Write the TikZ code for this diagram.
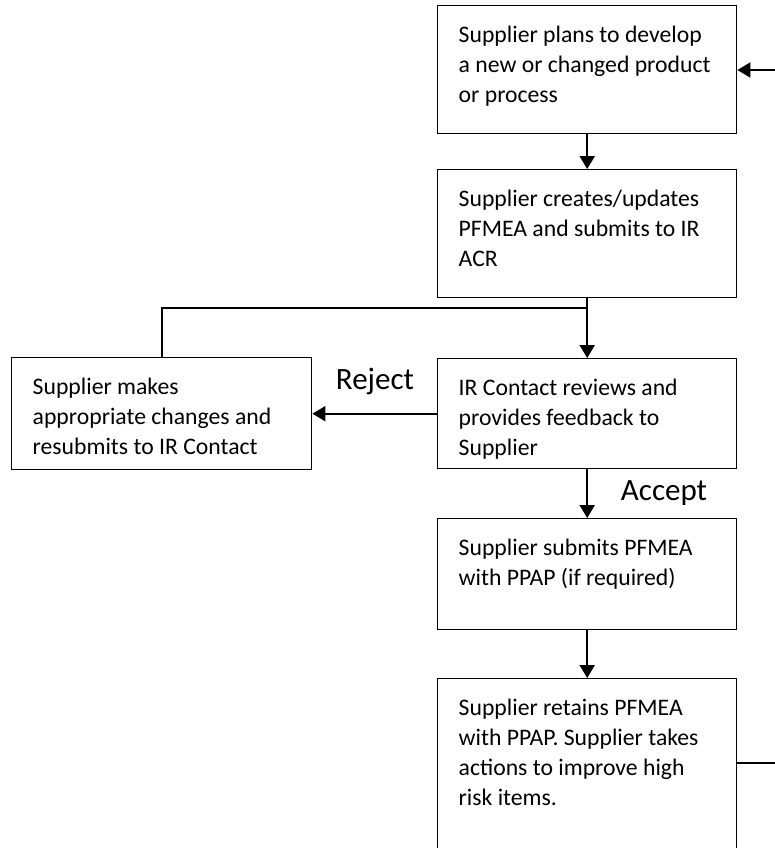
\documentclass[tikz,border=0pt]{standalone}
\usepackage{fontspec}
\setmainfont{Carlito}
\usetikzlibrary{arrows.meta}

% first baseline sits a fixed distance below the top edge of each box
\newcommand{\firstgap}{\rule{0pt}{37pt}}
\newcommand{\boxtext}[3]{\parbox[c][#2][t]{#1}{\fontsize{23.7pt}{30pt}\selectfont\raggedright\firstgap#3}}

\tikzset{
  stepbox/.style={draw=black, line width=1.4pt, inner xsep=21pt, inner ysep=0pt, anchor=north west, fill=white},
  flow/.style={line width=2pt, -{Triangle[length=13pt,width=15pt]}},
  plainline/.style={line width=2pt},
  decision/.style={font=\fontsize{31pt}{36pt}\selectfont, inner sep=0pt}
}

\begin{document}
\begin{tikzpicture}[x=1pt,y=-1pt]
  \useasboundingbox (0,0) rectangle (774,848);

  % process boxes (width 299, text area 257)
  \node[stepbox] (plan) at (437,5)
    {\boxtext{257pt}{128pt}{Supplier plans to develop\\ a new or changed product\\ or process}};
  \node[stepbox] (create) at (437,169)
    {\boxtext{257pt}{128pt}{Supplier creates/updates\\ PFMEA and submits to IR\\ ACR}};
  \node[stepbox] (review) at (437,358)
    {\boxtext{257pt}{110pt}{IR Contact reviews and\\ provides feedback to\\ Supplier}};
  \node[stepbox] (resubmit) at (11,357)
    {\boxtext{258pt}{112pt}{Supplier makes\\ appropriate changes and\\ resubmits to IR Contact}};
  \node[stepbox] (ppap) at (437,518)
    {\boxtext{257pt}{111pt}{Supplier submits PFMEA\\ with PPAP (if required)}};
  \node[stepbox] (retain) at (437,678)
    {\boxtext{257pt}{192pt}{Supplier retains PFMEA\\ with PPAP. Supplier takes\\ actions to improve high\\ risk items.}};

  % decision labels
  \node[decision] (reject) at (375,381) {Reject};
  \node[decision] (accept) at (664,493) {Accept};

  % loose ends running off the right edge
  \coordinate (loopin) at (780,70);
  \coordinate (loopout) at (780,763);
  \coordinate (merge) at (587,308);

  % connectors
  \draw[flow] (plan.south) -- (create.north);
  \draw[flow] (create.south) -- (review.north);
  \draw[plainline] (resubmit.north) |- (merge);
  \draw[flow] (review.west) -- (resubmit.east);
  \draw[flow] (review.south) -- (ppap.north);
  \draw[flow] (ppap.south) -- (retain.north);
  \draw[plainline] (retain.east |- loopout) -- (loopout);
  \draw[flow] (loopin) -- (plan.east |- loopin);
\end{tikzpicture}
\end{document}
